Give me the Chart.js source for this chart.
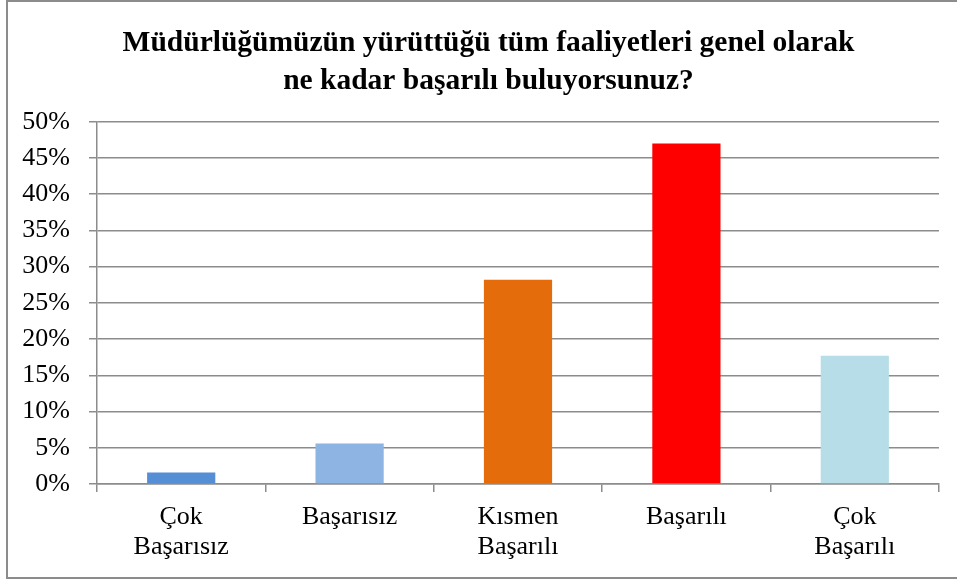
<!DOCTYPE html>
<html>
<head>
<meta charset="utf-8">
<script src="https://cdn.jsdelivr.net/npm/chart.js@4"></script>
<style>
  html, body { margin: 0; padding: 0; background: #fff; overflow: hidden; }
  #frame {
    position: absolute; left: 6px; top: 0; width: 960px; height: 575px;
    border: 2px solid #8c8c8c;
  }
  #wrap { position: absolute; left: 0; top: 0; width: 957px; height: 579px; }
</style>
</head>
<body>
<div id="frame"></div>
<div id="wrap"><canvas id="chart" width="957" height="579"></canvas></div>
<script>
// Kategoriler ve yüzdeler
const categories = [
    ['Çok', 'Başarısız'],
    'Başarısız',
    ['Kısmen', 'Başarılı'],
    'Başarılı',
    ['Çok', 'Başarılı']
];
const values = [1.6, 5.6, 28.2, 47.0, 17.7];
const barColors = ['#558ED5', '#8EB4E3', '#E46C0A', '#FF0000', '#B7DEE8'];
const titleLines = [
    'Müdürlüğümüzün yürüttüğü tüm faaliyetleri genel olarak',
    'ne kadar başarılı buluyorsunuz?'
];

const serif = "'Liberation Serif', 'Times New Roman', serif";

// başlık çerçevenin ortasına gelsin diye kutuyu biraz sağa kaydır
const shiftTitle = {
    id: 'shiftTitle',
    afterLayout(chart) {
        const t = chart.titleBlock;
        if (t) { t.left = 20; t.right = 957; }
    }
};

const ctx = document.getElementById('chart').getContext('2d');
const chart = new Chart(ctx, {
    type: 'bar',
    data: {
        labels: categories,
        datasets: [{
            data: values,
            backgroundColor: barColors,
            borderWidth: 0,
            categoryPercentage: 1,
            barPercentage: 0.405
        }]
    },
    options: {
        responsive: false,
        animation: false,
        layout: { padding: { left: 10, right: 18, top: 0, bottom: 0 } },
        plugins: {
            legend: { display: false },
            tooltip: { enabled: false },
            title: {
                display: true,
                text: titleLines,
                color: '#000',
                font: { family: serif, size: 29.5, weight: 'bold', lineHeight: 1.3 },
                padding: { top: 24, bottom: 21 }
            }
        },
        scales: {
            y: {
                min: 0,
                max: 50,
                ticks: {
                    stepSize: 5,
                    color: '#000',
                    padding: 19,
                    font: { family: serif, size: 26 },
                    callback: v => v + '%'
                },
                grid: { color: '#8c8c8c', lineWidth: 1.5, tickLength: 8 },
                border: { color: '#8c8c8c', width: 1.5 },
                afterFit: s => { s.width = 87; }
            },
            x: {
                ticks: {
                    color: '#000',
                    padding: 10,
                    font: { family: serif, size: 26, lineHeight: 1.15 }
                },
                grid: { offset: true, drawOnChartArea: false, color: '#8c8c8c', lineWidth: 1.5, tickLength: 8 },
                border: { color: '#8c8c8c', width: 1.5 },
                afterFit: s => { s.height = 95; }
            }
        }
    },
    plugins: [shiftTitle]
});
</script>
</body>
</html>
